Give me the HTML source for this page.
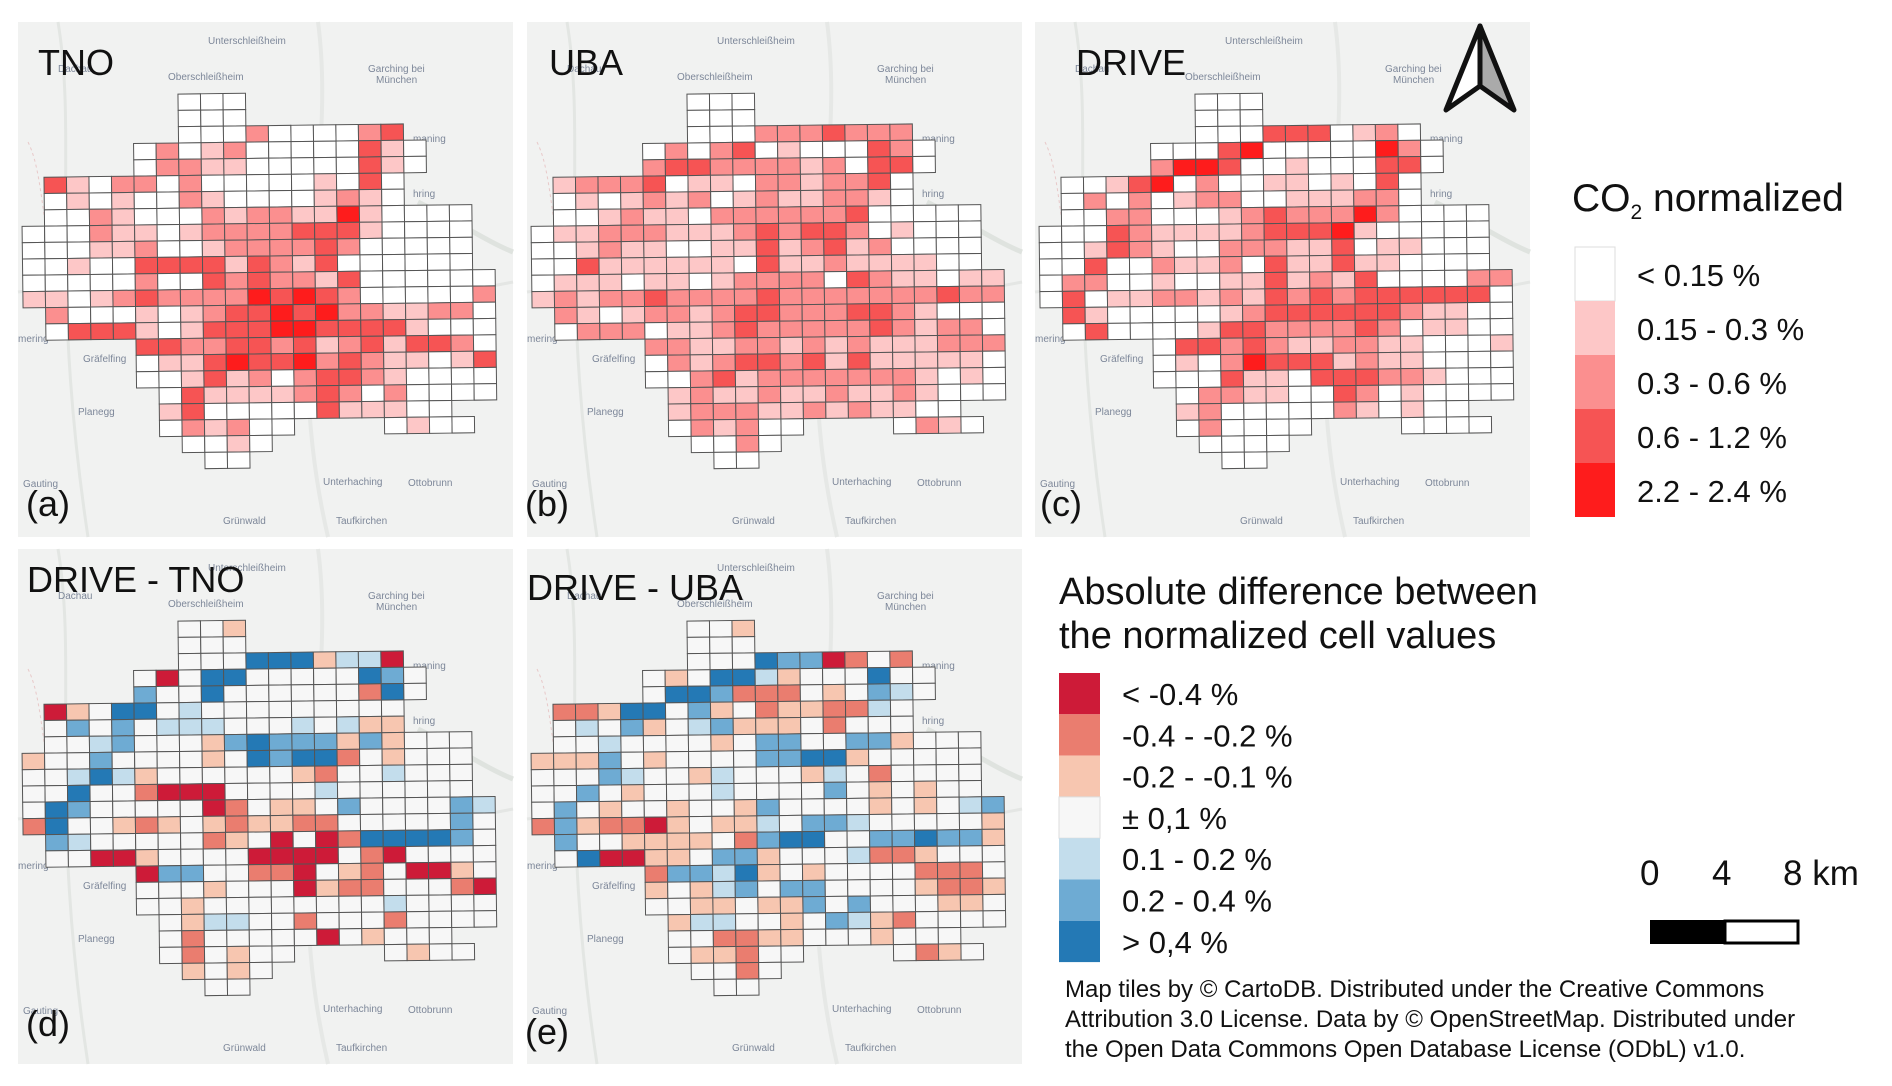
<!DOCTYPE html>
<html><head><meta charset="utf-8"><style>
html,body{margin:0;padding:0;background:#fff;}
svg{display:block;font-family:"Liberation Sans",Arial,sans-serif;}
</style></head><body>
<svg id="fig" width="1892" height="1086" viewBox="0 0 1892 1086">
<defs>
<g id="basemap">
<rect x="0" y="0" width="495" height="515" fill="#f1f2f1"/>
<path d="M40 0 C60 120 30 250 70 515" stroke="#e3e6e3" stroke-width="3" fill="none"/>
<path d="M300 0 C320 150 260 300 310 515" stroke="#e6e8e6" stroke-width="4" fill="none"/>
<path d="M0 270 C150 250 300 300 495 260" stroke="#e4e6e4" stroke-width="3" fill="none"/>
<path d="M400 180 C440 200 470 220 495 230" stroke="#dfe3df" stroke-width="5" fill="none"/>
<path d="M10 120 C30 160 20 240 60 300" stroke="#e8c9c9" stroke-width="1" stroke-dasharray="3 3" fill="none"/>
<g fill="#7d8799" font-size="10">
<text x="190" y="22">Unterschleißheim</text>
<text x="40" y="50">Dachau</text>
<text x="150" y="58">Oberschleißheim</text>
<text x="350" y="50">Garching bei</text><text x="358" y="61">München</text>
<text x="395" y="120">maning</text>
<text x="395" y="175">hring</text>
<text x="0" y="320">mering</text>
<text x="65" y="340">Gräfelfing</text>
<text x="60" y="393">Planegg</text>
<text x="5" y="465">Gauting</text>
<text x="305" y="463">Unterhaching</text>
<text x="390" y="464">Ottobrunn</text>
<text x="205" y="502">Grünwald</text>
<text x="318" y="502">Taufkirchen</text>
</g>
</g>
</defs>
<g id="panels"></g>
<g font-size="36" fill="#111">
<text x="38" y="75">TNO</text>
<text x="549" y="75">UBA</text>
<text x="1076" y="75">DRIVE</text>
<text x="27" y="592">DRIVE - TNO</text>
<text x="527" y="600">DRIVE - UBA</text>
<text x="26" y="516">(a)</text>
<text x="525" y="516">(b)</text>
<text x="1040" y="516">(c)</text>
<text x="26" y="1036">(d)</text>
<text x="525" y="1044">(e)</text>
</g>
<g>
<polygon points="1480,26 1446,110 1480,86" fill="#fff" stroke="#111" stroke-width="5" stroke-linejoin="round"/>
<polygon points="1480,26 1514,110 1480,86" fill="#aaa" stroke="#111" stroke-width="5" stroke-linejoin="round"/>
</g>
<g>
<text x="1572" y="211" font-size="39" fill="#111">CO<tspan font-size="21" dy="8">2</tspan><tspan dy="-8"> normalized</tspan></text>
<g id="co2leg"></g>
</g>
<g>
<text x="1059" y="604" font-size="38" fill="#111">Absolute difference between</text>
<text x="1059" y="648" font-size="38" fill="#111">the normalized cell values</text>
<g id="diffleg"></g>
</g>
<g font-size="35" fill="#111">
<text x="1640" y="885">0</text><text x="1712" y="885">4</text><text x="1783" y="885">8 km</text>
<rect x="1651" y="921" width="74" height="22" fill="#000" stroke="#000" stroke-width="2"/>
<rect x="1725" y="921" width="73" height="22" fill="#fff" stroke="#000" stroke-width="3"/>
</g>
<g font-size="24" fill="#111">
<text x="1065" y="997">Map tiles by © CartoDB. Distributed under the Creative Commons</text>
<text x="1065" y="1027">Attribution 3.0 License. Data by © OpenStreetMap. Distributed under</text>
<text x="1065" y="1057">the Open Data Commons Open Database License (ODbL) v1.0.</text>
</g>
</svg>
<script>
const maskRows = [
 [[7,9]],[[7,9]],[[7,16]],[[5,17]],[[5,17]],[[1,16]],[[1,16]],[[1,19]],[[0,19]],[[0,19]],[[0,19]],
 [[0,20]],[[0,20]],[[1,20]],[[1,20]],[[5,20]],[[5,20]],[[5,20]],[[6,20]],[[6,18]],[[6,11],[16,19]],[[7,10]],[[8,9]]
];
const tnoRows = ["000","000","0002000023","0201200000310","0221100000310","3102202000001030","0101002100001210",
 "0021000212211410000","00021101222233310000","00011200122223200000","00100333313213000000",
 "000002003232213000000","110123222243432000002","20001012334342211220","03331013334433331000",
 "3322332312313320","0113433423211013","0013120233210000","031111232020000","1300000311100","0212000100","0010","00"];
const ubaRows = ["000","000","0002223222","0202301000320","2332222120330","1222301102212230","0101212012112210",
 "0012110222222300000","01122211123233201000","00121100113123120000","00311111103112111100",
 "011101101222203211011","121223222232222222322","21012212332223321000","02220112322222321220",
 "2211221212111222","0212332313111110","0023122222221010","121121121121000","1222112121100","0212000210","0020","00"];
const driveRows = ["000","000","0003330120","0003400000420","2443001000330","0013402001101030","0202012200111220",
 "0022000123222420000","00032111123334100000","00132100222113011000","00300211203113110000",
 "022001001131213000022","030112212132323333330","31000001233333321100","03000013322223201100",
 "0332321122110001","0102433312110000","0003110333221000","022110032010000","1200000210100","0200000000","0000","00"];
const diffTnoRows = ["332","333","3336662440","3036633333653","5336333333163","0236634333333333","3535344433343422",
 "3345333256555252333","23353333236566132333","33464233333321334333","33633100033334333333",
 "365333330132235333354","163321232122113333353","54333331230301666653","33002333300003103333",
 "0553311032130023","3332333021133310","3323333333343333","324433133313333","3133333032333","3132333233","2323","33"];
const diffUbaRows = ["332","333","3336550131","3236642333633","3665111323543","1126635231221143","3435234522231333",
 "3343333235533552333","22253233335566233333","33354332433324313333","33532333433335323233",
 "353233233253333232345","152110232243554333332","53322223156633556552","36002235523334112333",
 "1554623233331113","2324535533332112","3322322535333223","244332354213333","3311223332333","3221333123","3313","33"];
const co2Colors = ["#ffffff","#fdc7c7","#fb8f8f","#f65454","#fe1c1c"];
const diffColors = ["#cd1b38","#ea7d6f","#f7c6b0","#f7f7f7","#c3ddec","#6eabd3","#2479b5"];
const co2Labels = ["< 0.15 %","0.15 - 0.3 %","0.3 - 0.6 %","0.6 - 1.2 %","2.2 - 2.4 %"];
const diffLabels = ["< -0.4 %","-0.4 - -0.2 %","-0.2 - -0.1 %","± 0,1 %","0.1 - 0.2 %","0.2 - 0.4 %","> 0,4 %"];

const NS="http://www.w3.org/2000/svg";
const CW=22.5, CH=16.3, GX=5, GY=71;
const panels=[
 {id:"a",x:18,y:22,rows:tnoRows,pal:co2Colors,def:"0"},
 {id:"b",x:527,y:22,rows:ubaRows,pal:co2Colors,def:"0"},
 {id:"c",x:1035,y:22,rows:driveRows,pal:co2Colors,def:"0"},
 {id:"d",x:18,y:549,rows:diffTnoRows,pal:diffColors,def:"3"},
 {id:"e",x:527,y:549,rows:diffUbaRows,pal:diffColors,def:"3"}
];
function colX(c){return GX+CW*c;}
function rowY(r){return GY+CH*r;}
const host=document.getElementById("panels");
panels.forEach(p=>{
  const g=document.createElementNS(NS,"g");
  g.setAttribute("transform","translate("+p.x+","+p.y+")");
  
  
  const bg=document.createElementNS(NS,"use");
  bg.setAttribute("href","#basemap");
  
  
  g.appendChild(bg);
  const grid=document.createElementNS(NS,"g");
  grid.setAttribute("transform","rotate(-0.7 250 280)");
  
  
  maskRows.forEach((ranges,r)=>{
    const s=p.rows[r]||"";let k=0;
    ranges.forEach(([a,b])=>{
      for(let c=a;c<=b;c++){
        const v=+(s[k]!==undefined?s[k]:p.def);k++;
        const rc=document.createElementNS(NS,"rect");
        rc.setAttribute("x",colX(c).toFixed(2));
        rc.setAttribute("y",rowY(r).toFixed(2));
        rc.setAttribute("width",CW);rc.setAttribute("height",CH);
        rc.setAttribute("fill",p.pal[v]);
        rc.setAttribute("stroke","#555");rc.setAttribute("stroke-width","1");
        
        
        grid.appendChild(rc);
      }
    });
  });
  g.appendChild(grid);
  host.appendChild(g);
});
function legend(hostId,colors,labels,x,y0,h,w,tx,fs,dy){
  const h0=document.getElementById(hostId);
  colors.forEach((c,i)=>{
    const r=document.createElementNS(NS,"rect");
    r.setAttribute("x",x);r.setAttribute("y",y0+h*i);
    r.setAttribute("width",w);r.setAttribute("height",h);
    r.setAttribute("fill",c);
    if(c==="#ffffff"||c==="#f7f7f7"){r.setAttribute("stroke","#ddd");}
    
    
    h0.appendChild(r);
    const t=document.createElementNS(NS,"text");
    t.setAttribute("x",tx);t.setAttribute("y",y0+h*i+dy);
    t.setAttribute("font-size",fs);t.setAttribute("fill","#111");
    t.textContent=labels[i];
    
    
    h0.appendChild(t);
  });
}
legend("co2leg",co2Colors,co2Labels,1575,247,54,40,1637,31,39);
legend("diffleg",diffColors,diffLabels,1059,673,41.3,41,1122,31,32);
</script>
</body></html>
